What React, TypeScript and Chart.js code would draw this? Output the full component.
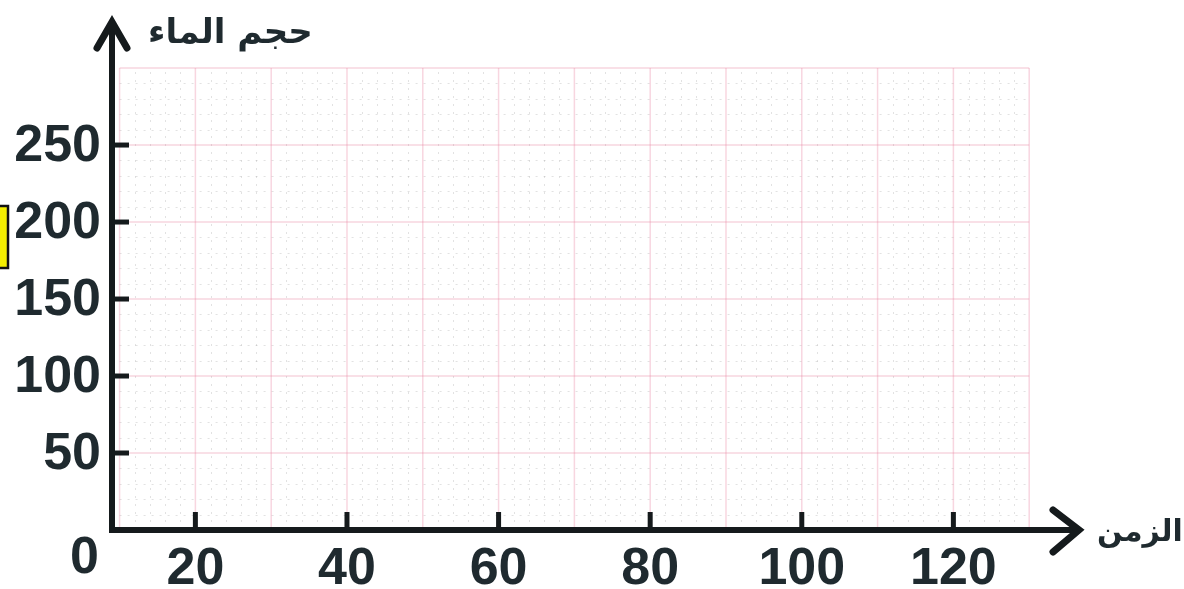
import React, { useEffect, useRef } from "react";
import { Chart, registerables } from "chart.js";

Chart.register(...registerables);

// ---- data (empty grid chart) ----
const xTickLabels = [20, 40, 60, 80, 100, 120];
const yTickLabels = [50, 100, 150, 200, 250];
const xGridMajor = [10, 20, 30, 40, 50, 60, 70, 80, 90, 100, 110, 120, 130];
const yGridMajor = [0, 50, 100, 150, 200, 250, 300];
const xMinorStep = 2;
const yMinorStep = 10;
const xRange = [9, 137.1];
const yRange = [0, 332.5];
const xTitle = "الزمن";
const yTitle = "حجم الماء";
const originLabel = "0";

const TEXT = "#1f2a2f";
const AXIS = "#151a1c";

const gridPlugin = {
  id: "handGrid",
  afterDraw(chart: any) {
    const ctx = chart.ctx as CanvasRenderingContext2D;
    const xs = chart.scales.x;
    const ys = chart.scales.y;
    const px = (v: number) => xs.getPixelForValue(v);
    const py = (v: number) => ys.getPixelForValue(v);
    const gx0 = xGridMajor[0], gx1 = xGridMajor[xGridMajor.length - 1];
    const gy0 = yGridMajor[0], gy1 = yGridMajor[yGridMajor.length - 1];

    ctx.save();
    // minor dotted grid
    ctx.strokeStyle = "rgba(150,150,150,0.28)";
    ctx.lineWidth = 1;
    ctx.setLineDash([2, 6]);
    for (let v = gx0; v <= gx1 + 1e-9; v += xMinorStep) {
      if (xGridMajor.includes(v)) continue;
      ctx.beginPath();
      ctx.moveTo(Math.round(px(v)) + 0.5, py(gy0));
      ctx.lineTo(Math.round(px(v)) + 0.5, py(gy1));
      ctx.stroke();
    }
    for (let v = gy0; v <= gy1 + 1e-9; v += yMinorStep) {
      if (yGridMajor.includes(v)) continue;
      ctx.beginPath();
      ctx.moveTo(px(gx0), Math.round(py(v)) + 0.5);
      ctx.lineTo(px(gx1), Math.round(py(v)) + 0.5);
      ctx.stroke();
    }
    // major pink grid
    ctx.setLineDash([]);
    ctx.strokeStyle = "rgba(235,130,160,0.33)";
    ctx.lineWidth = 1.5;
    xGridMajor.forEach((v) => {
      ctx.beginPath();
      ctx.moveTo(px(v), py(gy0));
      ctx.lineTo(px(v), py(gy1));
      ctx.stroke();
    });
    yGridMajor.forEach((v) => {
      ctx.beginPath();
      ctx.moveTo(px(gx0), py(v));
      ctx.lineTo(px(gx1), py(v));
      ctx.stroke();
    });

    // axes
    const ox = px(xRange[0]);
    const oy = py(yRange[0]);
    const tx = px(xRange[1]);
    const ty = py(yRange[1]);
    ctx.strokeStyle = AXIS;
    ctx.lineWidth = 6;
    ctx.lineCap = "butt";
    ctx.beginPath();
    ctx.moveTo(ox, oy + 3);
    ctx.lineTo(ox, ty + 3);
    ctx.stroke();
    ctx.beginPath();
    ctx.moveTo(ox - 3, oy);
    ctx.lineTo(tx - 3, oy);
    ctx.stroke();
    // arrowheads (chevrons)
    ctx.lineWidth = 7;
    ctx.lineCap = "round";
    ctx.lineJoin = "miter";
    ctx.beginPath();
    ctx.moveTo(ox - 15, ty + 30);
    ctx.lineTo(ox, ty + 4);
    ctx.lineTo(ox + 15, ty + 30);
    ctx.stroke();
    ctx.beginPath();
    ctx.moveTo(tx - 30, oy - 20);
    ctx.lineTo(tx - 4, oy);
    ctx.lineTo(tx - 30, oy + 22);
    ctx.stroke();

    // ticks
    ctx.lineCap = "butt";
    ctx.lineWidth = 5;
    xTickLabels.forEach((v) => {
      ctx.beginPath();
      ctx.moveTo(px(v), oy);
      ctx.lineTo(px(v), oy - 18);
      ctx.stroke();
    });
    yTickLabels.forEach((v) => {
      ctx.beginPath();
      ctx.moveTo(ox, py(v));
      ctx.lineTo(ox + 17, py(v));
      ctx.stroke();
    });

    // tick labels
    ctx.fillStyle = TEXT;
    ctx.font = 'bold 52px "Liberation Sans", Arial, sans-serif';
    ctx.textAlign = "center";
    ctx.textBaseline = "alphabetic";
    xTickLabels.forEach((v) => {
      ctx.fillText(String(v), px(v), oy + 54);
    });
    ctx.textAlign = "right";
    ctx.textBaseline = "alphabetic";
    yTickLabels.forEach((v) => {
      ctx.fillText(String(v), ox - 11, py(v) + 16);
    });
    ctx.fillText(originLabel, ox - 13, oy + 43);

    // axis titles
    ctx.font = 'bold 34px "DejaVu Sans", sans-serif';
    ctx.textAlign = "left";
    ctx.fillText(yTitle, ox + 36, ty + 25);
    ctx.font = 'bold 30px "DejaVu Sans", sans-serif';
    ctx.fillText(xTitle, tx + 14, oy + 11);

    // yellow marker at left edge
    ctx.fillStyle = "#f4ee00";
    ctx.strokeStyle = "#111";
    ctx.lineWidth = 2.5;
    ctx.fillRect(-4, 206, 12, 62);
    ctx.strokeRect(-4, 206, 12, 62);
    ctx.restore();
  },
};

export default function App() {
  const ref = useRef<HTMLCanvasElement | null>(null);
  useEffect(() => {
    if (!ref.current) return;
    const chart = new Chart(ref.current, {
      type: "scatter",
      data: { datasets: [{ data: [] }] },
      options: {
        animation: false,
        responsive: false,
        events: [],
        layout: { padding: { left: 112, right: 101, top: 18, bottom: 59 } },
        plugins: { legend: { display: false }, tooltip: { enabled: false } },
        scales: {
          x: { type: "linear", min: xRange[0], max: xRange[1], display: false },
          y: { type: "linear", min: yRange[0], max: yRange[1], display: false },
        },
      },
      plugins: [gridPlugin],
    });
    return () => chart.destroy();
  }, []);
  return (
    <div style={{ position: "absolute", left: 0, top: 0, width: 1184, height: 589, background: "#fff" }}>
      <canvas ref={ref} width={1184} height={589} style={{ width: 1184, height: 589 }} />
    </div>
  );
}
